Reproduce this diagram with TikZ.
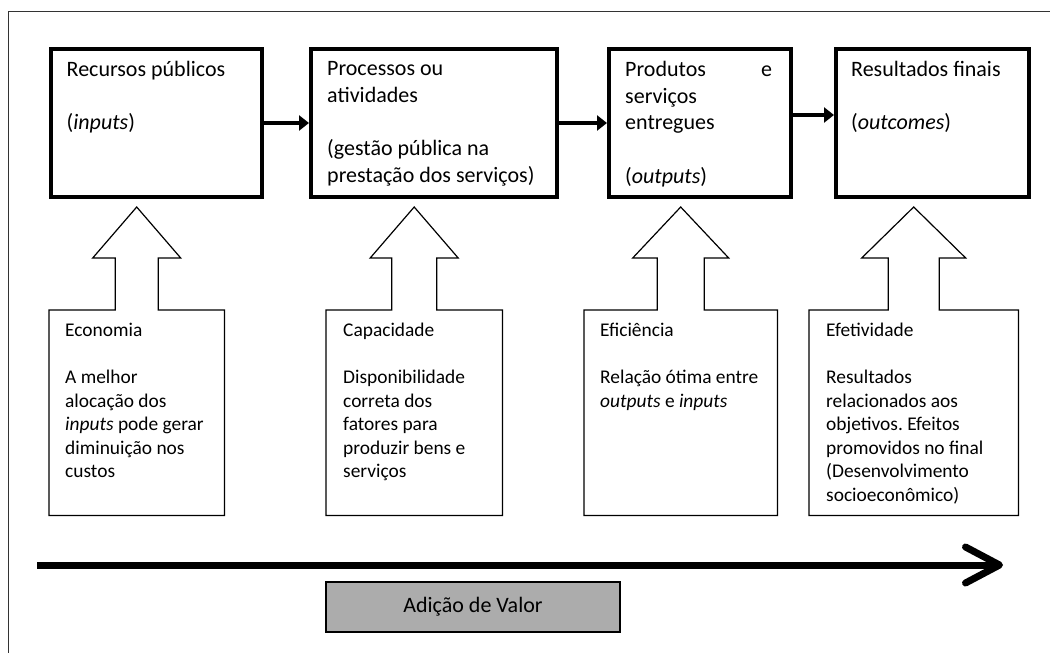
\documentclass[tikz,border=0pt]{standalone}
\usepackage{fontspec}
\setmainfont{Carlito}
\usetikzlibrary{positioning,arrows.meta,calc}
\frenchspacing
\tikzset{
	etapa/.style={draw, line width=4pt, minimum width=#1, minimum height=148pt,
			anchor=north west, inner sep=0pt},
	etapatexto/.style={align=left, inner sep=0pt, anchor=north west,
			font=\fontsize{22}{26.7}\selectfont},
	criterio/.style={minimum width=#1, minimum height=205pt, anchor=north west,
			inner sep=0pt},
	criteriotexto/.style={align=left, inner sep=0pt, anchor=north west,
			font=\fontsize{19.4}{23.5}\selectfont},
	contorno/.style={draw, line width=1.2pt, line join=miter},
	passo/.style={line width=4pt, -{Triangle[length=10pt,width=15pt]}}
}

\begin{document}
\begin{tikzpicture}[x=1pt,y=-1pt]
	\useasboundingbox (0,0) rectangle (1050,653);
	\draw[line width=1pt, black!80] (8,11) rectangle (1070,680);
	% etapas
	\node[etapa=211] (r1) at (48.5,47) {};
	\node[etapa=246] (r2) at (309,47) {};
	\node[etapa=182] (r3) at (607,47) {};
	\node[etapa=193] (r4) at (834,47) {};
	\node[etapatexto, below right=14pt and 18pt of r1.north west] (r1t)
	{Recursos públicos\\[26.7pt] (\textit{inputs})};
	\node[etapatexto, below right=14pt and 18pt of r2.north west] (r2t)
	{Processos ou\\ atividades\\[26.7pt] (gestão pública na\\ prestação dos serviços)};
	\node[etapatexto, text width=147pt, below right=14pt and 18pt of r3.north west] (r3t)
	{Produtos \hfill e\\ serviços\\ entregues\\[26.7pt] (\textit{outputs})};
	\node[etapatexto, below right=14pt and 17pt of r4.north west] (r4t)
	{Resultados finais\\[26.7pt] (\textit{outcomes})};
	\draw[passo] (r1.east) -- (r2.west);
	\draw[passo] (r2.east) -- (r3.west);
	\draw[passo] ($(r3.east)+(0,-8)$) -- ($(r4.west)+(0,-8)$);
	% criterios
	\node[criterio=175] (e1) at (49,310) {};
	\node[criterio=176] (e2) at (326,310) {};
	\node[criterio=193] (e3) at (584,310) {};
	\node[criterio=209] (e4) at (809,310) {};
	\foreach \c/\h/\s in {e1/44/21.5, e2/44/22.5, e3/48/23.5, e4/52/25.5}
	\draw[contorno] (\c.north west) -- ($(\c.north)+(-\s,0)$) -- ++(0,-52)
	-- ($(\c.north)+(-\h,-52)$) -- ($(\c.north)+(0,-103)$)
	-- ($(\c.north)+(\h,-52)$) -- ($(\c.north)+(\s,-52)$)
	-- ($(\c.north)+(\s,0)$) -- (\c.north east) -- (\c.south east)
	-- (\c.south west) -- cycle;
	\node[criteriotexto, below right=13pt and 16pt of e1.north west] (e1t)
	{Economia\\[23.5pt] A melhor\\ alocação dos\\ \textit{inputs} pode gerar\\
		diminuição nos\\ custos};
	\node[criteriotexto, below right=13pt and 17pt of e2.north west] (e2t)
	{Capacidade\\[23.5pt] Disponibilidade\\ correta dos\\ fatores para\\
		produzir bens e\\ serviços};
	\node[criteriotexto, below right=13pt and 16pt of e3.north west] (e3t)
	{Eficiência\\[23.5pt] Relação ótima entre\\ \textit{outputs} e \textit{inputs}};
	\node[criteriotexto, below right=13pt and 17pt of e4.north west] (e4t)
	{Efetividade\\[23.5pt] Resultados\\ relacionados aos\\ objetivos. Efeitos\\
		promovidos no final\\ (Desenvolvimento\\ socioeconômico)};
	% adicao de valor
	\coordinate (ini) at (37,565);
	\coordinate (fim) at (1003,565);
	\draw[line width=7pt, -{Straight Barb[length=34pt,width=36pt,round]}] (ini) -- (fim);
	\node[draw, line width=1.5pt, fill=gray!65, minimum width=294pt, minimum height=50pt,
		font=\fontsize{22}{26}\selectfont] (valor) at (473,607) {Adição de Valor};
\end{tikzpicture}
\end{document}
